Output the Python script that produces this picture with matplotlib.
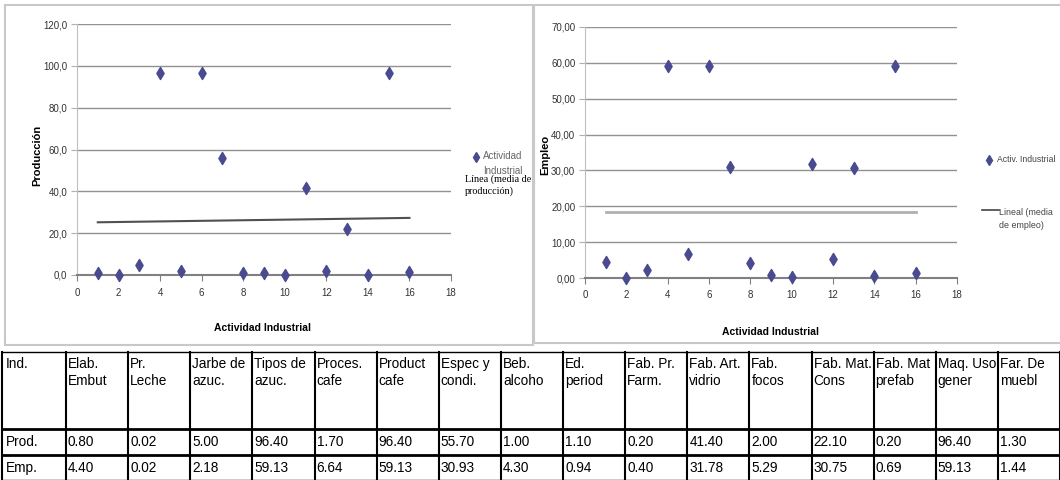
import numpy as np
import matplotlib
matplotlib.use("Agg")
import matplotlib.pyplot as plt
from matplotlib.patches import Rectangle
from matplotlib.ticker import FuncFormatter

# Data
actividad = list(range(1, 17))
ind_names = ["Elab.\nEmbut", "Pr.\nLeche", "Jarbe de\nazuc.", "Tipos de\nazuc.", "Proces.\ncafe",
             "Product\ncafe", "Espec y\ncondi.", "Beb.\nalcoho", "Ed.\nperiod", "Fab. Pr.\nFarm.",
             "Fab. Art.\nvidrio", "Fab.\nfocos", "Fab. Mat.\nCons", "Fab. Mat\nprefab",
             "Maq. Uso\ngener", "Far. De\nmuebl"]
produccion = [0.80, 0.02, 5.00, 96.40, 1.70, 96.40, 55.70, 1.00, 1.10, 0.20, 41.40, 2.00,
              22.10, 0.20, 96.40, 1.30]
empleo = [4.40, 0.02, 2.18, 59.13, 6.64, 59.13, 30.93, 4.30, 0.94, 0.40, 31.78, 5.29,
          30.75, 0.69, 59.13, 1.44]
trend_x = [1, 16]
trend_prod = [25.2, 27.3]
trend_emp = [18.5, 18.5]

sans = ["Liberation Sans", "DejaVu Sans"]
serif = ["Liberation Serif", "DejaVu Serif"]

W, H = 1060, 480
fig = plt.figure(figsize=(W / 100, H / 100), dpi=100)

# background axes in pixel coordinates
bg = fig.add_axes([0, 0, 1, 1], zorder=0)
bg.set_xlim(0, W)
bg.set_ylim(H, 0)
bg.axis("off")

# panel frames
bg.add_patch(Rectangle((5, 5), 528, 340, fill=False, ec="#c8c8c8", lw=1.5))
bg.add_patch(Rectangle((534, 5), 530, 338, fill=False, ec="#c8c8c8", lw=1.5))


def pix_axes(x0, x1, y0, y1):
    return fig.add_axes([x0 / W, 1 - y1 / H, (x1 - x0) / W, (y1 - y0) / H], zorder=2)


def style(ax, ymax, ystep, fmt):
    ax.set_xlim(0, 18)
    ax.set_ylim(0, ymax)
    ax.set_xticks(range(0, 19, 2))
    ax.set_yticks(np.arange(0, ymax + 0.1, ystep))
    ax.yaxis.set_major_formatter(FuncFormatter(lambda v, p: fmt.format(v).replace(".", ",")))
    ax.patch.set_alpha(0)
    for s in ["top", "right"]:
        ax.spines[s].set_visible(False)
    ax.spines["left"].set_color("#c0c0c0")
    ax.spines["bottom"].set_color("#808080")
    ax.spines["bottom"].set_linewidth(1.5)
    ax.tick_params(axis="both", labelsize=7, colors="#333333", length=4, width=0.8, pad=3)
    ax.tick_params(axis="y", color="#b0b0b0")
    ax.tick_params(axis="x", color="#808080", pad=5)
    for lab in ax.get_xticklabels() + ax.get_yticklabels():
        lab.set_family(sans)
    ax.grid(axis="y", color="#929292", lw=1.0)
    ax.set_axisbelow(True)


# Left chart - Produccion
ax1 = pix_axes(77, 451, 24, 275)
style(ax1, 120, 20, "{:.1f}")
ax1.plot(trend_x, trend_prod, color="#505050", lw=1.5, zorder=2)
ax1.scatter(actividad, produccion, marker="d", s=38, color="#4a4a90", zorder=3, clip_on=False)
ax1.set_xlabel("Actividad Industrial", fontsize=7.5, fontweight="bold", family=sans)
ax1.set_ylabel("Producción", fontsize=8, fontweight="bold", family=sans)
ax1.xaxis.set_label_coords(0.495, -0.19)
ax1.yaxis.set_label_coords(-0.094, 0.478)

# Right chart - Empleo
ax2 = pix_axes(585, 957, 27, 278)
style(ax2, 70, 10, "{:.2f}")
ax2.plot(trend_x, trend_emp, color="#b0b0b0", lw=2, zorder=2)
ax2.scatter(actividad, empleo, marker="d", s=38, color="#4a4a90", zorder=3, clip_on=False)
ax2.set_xlabel("Actividad Industrial", fontsize=7.5, fontweight="bold", family=sans)
ax2.set_ylabel("Empleo", fontsize=8, fontweight="bold", family=sans)
ax2.xaxis.set_label_coords(0.5, -0.197)
ax2.yaxis.set_label_coords(-0.094, 0.49)

# legends
bg.plot([476], [157], marker="d", ms=5, color="#4a4a90", ls="none")
bg.text(483, 151, "Actividad\nIndustrial", fontsize=7, color="#666666", family=sans,
        va="top", ha="left", linespacing=1.6)
bg.text(465, 185, "Línea (media de\nproducción)", fontsize=7.3, color="black", family=serif,
        va="center", ha="left", linespacing=1.25)

bg.plot([989], [160], marker="d", ms=5, color="#4a4a90", ls="none")
bg.text(997, 160, "Activ. Industrial", fontsize=6.2, color="#444444", family=sans,
        va="center", ha="left")
bg.plot([982, 999], [210, 210], color="#444444", lw=1.2)
bg.text(999, 219, "Lineal (media\nde empleo)", fontsize=6.4, color="#444444", family=sans,
        va="center", ha="left", linespacing=1.7)

# Table
col_edges = [2, 66] + [66 + 62.125 * i for i in range(1, 17)]
row_edges = [352, 429, 455, 480]
for x in col_edges:
    bg.plot([x, x], [row_edges[0], H], color="black", lw=1.5)
bg.plot([2, W], [352, 352], color="black", lw=1.0)
bg.plot([2, W], [429, 429], color="black", lw=2.0)
bg.plot([2, W], [455, 455], color="black", lw=2.0)
bg.plot([2, W], [479.5, 479.5], color="black", lw=1.0)

tfont = dict(fontsize=9.8, family=sans, color="black", ha="left")
bg.text(col_edges[0] + 4, 357, "Ind.", va="top", **tfont)
bg.text(col_edges[0] + 4, 442, "Prod.", va="center", **tfont)
bg.text(col_edges[0] + 4, 468, "Emp.", va="center", **tfont)
for i, name in enumerate(ind_names):
    x = col_edges[i + 1] + 2
    bg.text(x, 357, name, va="top", linespacing=1.3, **tfont)
    bg.text(x, 442, f"{produccion[i]:.2f}", va="center", **tfont)
    bg.text(x, 468, f"{empleo[i]:.2f}", va="center", **tfont)

fig.savefig("out.png", dpi=100)
